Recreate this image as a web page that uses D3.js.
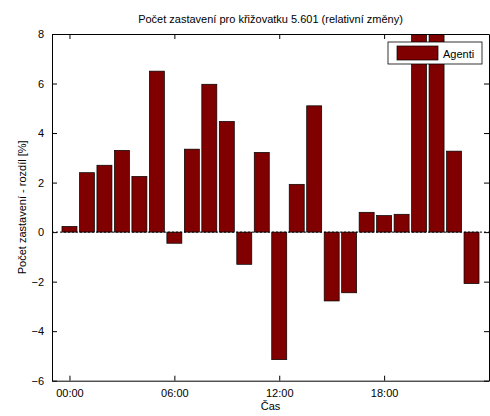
<!DOCTYPE html>
<html><head><meta charset="utf-8">
<script src="https://cdn.jsdelivr.net/npm/d3@7"></script>
<style>body{margin:0;background:#fff}text{font-family:"Liberation Sans",Arial,sans-serif}</style>
</head><body><svg id="c" width="490" height="416"></svg>
<script>
const hours = d3.range(24);
const values = [0.23,2.4,2.7,3.3,2.25,6.5,-0.45,3.35,5.97,4.47,-1.3,3.22,-5.15,1.93,5.1,-2.78,-2.45,0.8,0.67,0.72,9.5,9.0,3.27,-2.08];
const yTicks = [-6,-4,-2,0,2,4,6,8];
const xTicks = [0,6,12,18];
const xTickLabels = ["00:00","06:00","12:00","18:00"];

const svg = d3.select("#c");
const L=52,R=489,T=34,B=380.7;
const x = d3.scaleLinear().domain([-1,24]).range([L,R]);
const y = d3.scaleLinear().domain([-6,8]).range([B,T]);
const bw = 15;
svg.append("rect").attr("x",L).attr("y",T).attr("width",R-L).attr("height",B-T).attr("fill","#fff");
const g = svg.append("g");
svg.append("clipPath").attr("id","cp").append("rect").attr("x",L).attr("y",T).attr("width",R-L).attr("height",B-T);
g.attr("clip-path","url(#cp)");
g.selectAll("rect.bar").data(values).join("rect").attr("class","bar")
 .attr("x",(d,i)=>x(hours[i])-bw/2).attr("width",bw)
 .attr("y",d=>y(Math.max(0,d))).attr("height",d=>Math.abs(y(d)-y(0)))
 .attr("fill","#800000").attr("stroke","#000").attr("stroke-width",0.7);
g.append("line").attr("x1",L).attr("x2",R).attr("y1",y(0)).attr("y2",y(0))
 .attr("stroke","#000").attr("stroke-dasharray","2,2");
// axes
const ax = svg.append("g").attr("transform",`translate(0,${B})`).call(d3.axisBottom(x).tickValues(xTicks).tickFormat((d,i)=>xTickLabels[i]).tickSizeInner(-5).tickSizeOuter(0).tickPadding(9));
const ay = svg.append("g").attr("transform",`translate(${L},0)`).call(d3.axisLeft(y).tickValues(yTicks).tickSizeInner(-5).tickSizeOuter(0).tickPadding(8));
const at = svg.append("g").attr("transform",`translate(0,${T})`).call(d3.axisTop(x).tickValues(xTicks).tickFormat("").tickSizeInner(-5).tickSizeOuter(0));
const ar = svg.append("g").attr("transform",`translate(${R},0)`).call(d3.axisRight(y).tickValues(yTicks).tickFormat("").tickSizeInner(-5).tickSizeOuter(0));
[ax,ay,at,ar].forEach(a=>{a.select(".domain").attr("stroke","#000").attr("stroke-width",1);a.selectAll("text").attr("font-size",11).attr("fill","#000").style("font-family","Liberation Sans, Arial");});
// legend
svg.append("rect").attr("x",388).attr("y",42).attr("width",94).attr("height",22).attr("fill","#fff").attr("stroke","#000").attr("stroke-width",0.8);
svg.append("rect").attr("x",397).attr("y",46).attr("width",41).attr("height",14).attr("fill","#800000").attr("stroke","#000").attr("stroke-width",0.7);
svg.append("text").attr("x",443).attr("y",57.5).attr("font-size",11).text("Agenti");
// titles
svg.append("text").attr("x",(L+R)/2).attr("y",23).attr("text-anchor","middle").attr("font-size",11).text("Počet zastavení pro křižovatku 5.601 (relativní změny)");
svg.append("text").attr("x",(L+R)/2).attr("y",410).attr("text-anchor","middle").attr("font-size",11).text("Čas");
svg.append("text").attr("transform",`translate(26,${(T+B)/2}) rotate(-90)`).attr("text-anchor","middle").attr("font-size",11).text("Počet zastavení  - rozdíl [%]");
</script></body></html>
